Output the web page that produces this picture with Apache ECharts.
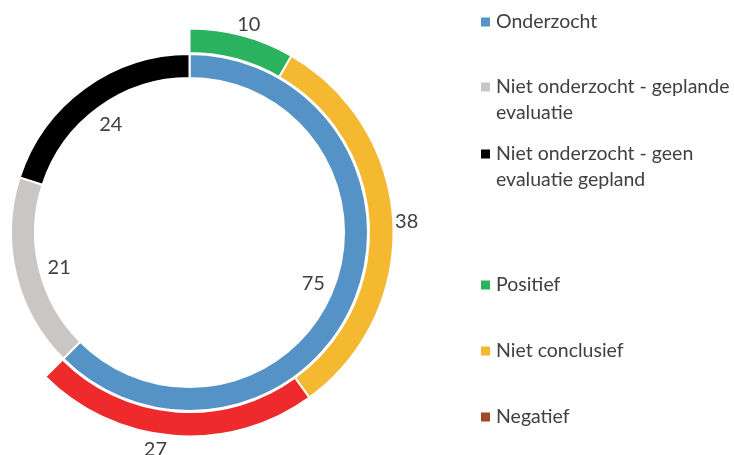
<!DOCTYPE html>
<html>
<head>
<meta charset="utf-8">
<script src="https://cdn.jsdelivr.net/npm/echarts@6/dist/echarts.min.js"></script>
<style>
  html, body { margin: 0; padding: 0; background: #fff; }
  #chart { width: 734px; height: 455px; }
</style>
</head>
<body>
<div id="chart"></div>
<script>
// binnenring: onderzocht / niet onderzocht
const innerNames = ['Onderzocht', 'Niet onderzocht - geplande evaluatie', 'Niet onderzocht - geen evaluatie gepland']
const innerValues = [75, 21, 24]
const innerColors = ['#5592C6', '#C9C6C3', '#000000']

// buitenring: uitkomst van de onderzochte
const outerNames = ['Positief', 'Niet conclusief', 'Negatief']
const outerValues = [10, 38, 27]
const outerColors = ['#2AB25E', '#F4B831', '#EE2A2D']
const legendColors = ['#2AB25E', '#F4B831', '#9E4A24']

// lege eerste regel: dan staat het blokje naast de eerste tekstregel
const legendLabels = {
  'Niet onderzocht - geplande evaluatie': '\nNiet onderzocht - geplande\nevaluatie',
  'Niet onderzocht - geen evaluatie gepland': '\nNiet onderzocht - geen\nevaluatie gepland'
}

// kleine verschuivingen van de waardelabels zoals in het origineel
const labelOffsets = {
  'Niet onderzocht - geplande evaluatie': [0, 4],
  Positief: [3, 2],
  Negatief: [-17, 0]
}

const FONT = 'Lato'
const TEXT = '#404040'
const center = [189.5, 232.5]

const innerData = innerNames.map((name, i) => ({
  name,
  value: innerValues[i],
  itemStyle: { color: innerColors[i] }
}))

// rest van de buitenring blijft leeg
const gap = innerValues.reduce((a, b) => a + b, 0) - outerValues.reduce((a, b) => a + b, 0)
const outerData = outerNames.map((name, i) => ({
  name,
  value: outerValues[i],
  itemStyle: { color: outerColors[i] }
})).concat([{
  name: '',
  value: gap,
  itemStyle: { color: 'rgba(0,0,0,0)', borderWidth: 0 }
}])

function ring (data, radius) {
  return {
    type: 'pie',
    center,
    radius,
    startAngle: 90,
    clockwise: true,
    silent: true,
    itemStyle: { borderColor: '#fff', borderWidth: 2 },
    label: { show: false },
    labelLine: { show: false },
    emphasis: { disabled: true },
    data
  }
}

// onzichtbare ring die alleen de waardes op de juiste straal zet
function labelRing (data, radius) {
  return {
    type: 'pie',
    center,
    radius,
    startAngle: 90,
    clockwise: true,
    silent: true,
    legendHoverLink: false,
    itemStyle: { color: 'rgba(0,0,0,0)', borderWidth: 0 },
    label: {
      show: true,
      position: 'inside',
      formatter: '{c}',
      fontFamily: FONT,
      fontSize: 20,
      color: TEXT
    },
    labelLine: { show: false },
    emphasis: { disabled: true },
    data: data.map(d => ({
      name: d.name,
      value: d.value,
      label: d.name ? { offset: labelOffsets[d.name] || [0, 0] } : { show: false }
    }))
  }
}

function legendAt (name, color, top) {
  return {
    data: [{ name, itemStyle: { color, borderWidth: 0 } }],
    orient: 'vertical',
    left: 481,
    top,
    padding: 0,
    icon: 'rect',
    itemWidth: 9,
    itemHeight: 9,
    itemGap: 0,
    selectedMode: false,
    formatter: n => legendLabels[n] || n,
    textStyle: {
      fontFamily: FONT,
      fontSize: 19.5,
      color: TEXT,
      lineHeight: 26,
      padding: [0, 0, 0, 1]
    }
  }
}

const chart = echarts.init(document.getElementById('chart'), null, { renderer: 'canvas' })
chart.setOption({
  animation: false,
  backgroundColor: '#fff',
  legend: [
    legendAt(innerNames[0], innerColors[0], 9),
    legendAt(innerNames[1], innerColors[1], 48),
    legendAt(innerNames[2], innerColors[2], 115),
    legendAt(outerNames[0], legendColors[0], 272),
    legendAt(outerNames[1], legendColors[1], 338),
    legendAt(outerNames[2], legendColors[2], 404)
  ],
  series: [
    ring(innerData, [154.5, 178.5]),
    ring(outerData, [179.5, 204]),
    labelRing(innerData, [121, 141]),
    labelRing(outerData, [205, 224])
  ]
})
</script>
</body>
</html>
